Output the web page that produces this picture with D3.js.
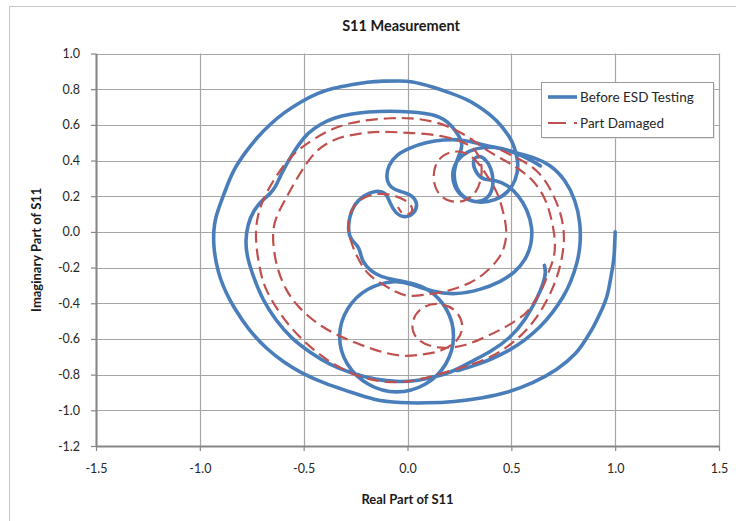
<!DOCTYPE html>
<html>
<head>
<meta charset="utf-8">
<script src="https://cdn.jsdelivr.net/npm/d3@7"></script>
<style>
  html, body { margin: 0; padding: 0; background: #ffffff; }
  svg { display: block; font-family: Lato, "Liberation Sans", "DejaVu Sans", sans-serif; }
</style>
</head>
<body>
<svg id="chart" width="736" height="521"></svg>
<script>
// Axis tick values
const xTicks = [-1.5, -1.0, -0.5, 0.0, 0.5, 1.0, 1.5];
const yTicks = [1.0, 0.8, 0.6, 0.4, 0.2, 0.0, -0.2, -0.4, -0.6, -0.8, -1.0, -1.2];

// S11 trace before ESD testing: [real, imaginary], in sweep order
const beforeESD = [
  [1.000,0.000],[0.997,-0.101],[0.992,-0.174],[0.977,-0.269],[0.963,-0.364],[0.929,-0.454],[0.896,-0.533],
  [0.857,-0.605],[0.818,-0.678],[0.722,-0.774],[0.607,-0.846],[0.481,-0.902],[0.366,-0.930],[0.221,-0.953],
  [0.096,-0.959],[-0.034,-0.959],[-0.164,-0.942],[-0.274,-0.897],[-0.395,-0.852],[-0.515,-0.790],[-0.597,-0.729],
  [-0.674,-0.661],[-0.766,-0.549],[-0.838,-0.420],[-0.871,-0.348],[-0.900,-0.269],[-0.920,-0.185],[-0.934,-0.084],
  [-0.934,0.011],[-0.924,0.084],[-0.900,0.163],[-0.871,0.252],[-0.838,0.348],[-0.780,0.448],[-0.722,0.533],
  [-0.660,0.605],[-0.597,0.667],[-0.515,0.729],[-0.433,0.779],[-0.356,0.807],[-0.274,0.824],[-0.193,0.841],
  [-0.116,0.846],[-0.034,0.846],[0.014,0.846],[0.125,0.812],[0.207,0.778],[0.289,0.742],[0.345,0.702],
  [0.395,0.660],[0.432,0.620],[0.463,0.578],[0.490,0.535],[0.510,0.490],[0.522,0.443],
  [0.536,0.376],[0.522,0.291],[0.486,0.222],[0.424,0.176],[0.342,0.160],[0.268,0.188],[0.222,0.252],
  [0.213,0.336],[0.238,0.406],[0.294,0.456],[0.366,0.478],[0.448,0.473],[0.520,0.443],
  [0.607,0.420],[0.689,0.376],[0.761,0.291],[0.809,0.179],[0.833,0.050],[0.833,-0.073],[0.818,-0.174],
  [0.785,-0.286],[0.751,-0.364],[0.698,-0.454],[0.640,-0.533],[0.568,-0.605],[0.496,-0.661],[0.400,-0.717],
  [0.289,-0.762],[0.207,-0.790],
  [0.303,-0.729],[0.400,-0.673],[0.496,-0.594],[0.568,-0.493],[0.626,-0.370],[0.655,-0.286],[0.668,-0.224],
  [0.655,-0.170],[0.668,-0.224],[0.655,-0.286],[0.626,-0.370],[0.568,-0.493],[0.496,-0.594],[0.400,-0.673],
  [0.303,-0.729],[0.207,-0.790],
  [0.125,-0.813],[0.039,-0.835],[-0.034,-0.841],[-0.154,-0.830],[-0.274,-0.790],[-0.371,-0.746],[-0.467,-0.678],
  [-0.563,-0.594],[-0.636,-0.493],[-0.698,-0.381],[-0.746,-0.241],[-0.775,-0.129],[-0.780,-0.045],[-0.770,0.039],
  [-0.741,0.123],[-0.698,0.179],[-0.662,0.212],[-0.635,0.252],[-0.618,0.300],[-0.597,0.348],[-0.563,0.420],
  [-0.525,0.488],[-0.481,0.555],[-0.419,0.605],[-0.356,0.639],[-0.274,0.661],[-0.193,0.673],[-0.082,0.678],
  [0.014,0.673],[0.125,0.661],[0.193,0.622],[0.241,0.555],[0.270,0.488],
  [0.246,0.426],[0.222,0.348],[0.227,0.263],[0.263,0.196],[0.323,0.162],[0.384,0.180],[0.415,0.247],
  [0.410,0.340],[0.378,0.410],[0.335,0.432],[0.310,0.392],[0.332,0.325],[0.366,0.291],[0.424,0.291],[0.481,0.263],
  [0.534,0.207],[0.578,0.123],[0.602,0.022],[0.597,-0.073],[0.568,-0.157],[0.520,-0.224],[0.448,-0.280],
  [0.351,-0.325],[0.231,-0.353],[0.120,-0.336],[0.014,-0.291],
  [-0.053,-0.269],[-0.197,-0.308],[-0.299,-0.426],[-0.340,-0.583],[-0.302,-0.746],[-0.193,-0.866],[-0.053,-0.912],
  [0.091,-0.866],[0.196,-0.746],[0.234,-0.583],[0.197,-0.426],[0.101,-0.314],[0.014,-0.286],[-0.058,-0.270],
  [-0.130,-0.252],[-0.178,-0.219],[-0.217,-0.168],[-0.228,-0.112],[-0.238,-0.078],[-0.272,-0.045],[-0.286,0.000],
  [-0.281,0.084],[-0.257,0.153],[-0.212,0.205],[-0.154,0.232],[-0.104,0.224],
  [-0.086,0.166],[-0.060,0.106],[-0.014,0.076],[0.035,0.103],[0.050,0.160],[0.022,0.208],[-0.034,0.226],[-0.084,0.247],
  [-0.104,0.303],[-0.093,0.372],[-0.053,0.434],[0.014,0.473],[0.087,0.501],[0.173,0.518],[0.265,0.518],
  [0.342,0.495],[0.400,0.478],[0.462,0.465],[0.520,0.443],[0.592,0.404],[0.640,0.370]
];

// S11 trace after the part was damaged: [real, imaginary], in sweep order
const partDamaged = [
  [0.448,0.460],[0.520,0.420],[0.607,0.364],[0.664,0.291],[0.703,0.207],[0.737,0.112],[0.756,0.000],
  [0.751,-0.101],[0.737,-0.185],[0.713,-0.280],[0.674,-0.381],[0.616,-0.493],[0.544,-0.589],[0.448,-0.673],
  [0.351,-0.729],[0.255,-0.762],[0.125,-0.807],[0.014,-0.841],[-0.096,-0.846],[-0.226,-0.818],[-0.356,-0.746],
  [-0.467,-0.650],[-0.563,-0.538],[-0.626,-0.437],[-0.684,-0.325],[-0.708,-0.230],[-0.727,-0.101],[-0.732,0.000],
  [-0.722,0.095],[-0.693,0.191],[-0.645,0.291],[-0.578,0.404],[-0.515,0.471],[-0.443,0.527],[-0.356,0.583],
  [-0.274,0.611],[-0.193,0.628],[-0.082,0.639],[0.014,0.639],[0.125,0.622],[0.241,0.572],
  [0.327,0.504],[0.400,0.443],[0.472,0.398],[0.530,0.359],[0.607,0.291],[0.664,0.191],[0.693,0.078],
  [0.713,-0.045],[0.708,-0.146],[0.679,-0.224],[0.655,-0.308],[0.616,-0.381],[0.578,-0.454],[0.506,-0.510],
  [0.448,-0.549],[0.366,-0.594],[0.289,-0.633],
  [0.207,-0.652],[0.111,-0.648],[0.031,-0.596],[0.015,-0.505],[0.060,-0.422],[0.144,-0.393],[0.234,-0.430],
  [0.274,-0.521],[0.248,-0.613],[0.159,-0.673],[0.063,-0.689],[-0.034,-0.701],
  [-0.164,-0.661],[-0.289,-0.605],[-0.419,-0.533],[-0.530,-0.420],[-0.587,-0.325],[-0.626,-0.213],[-0.645,-0.101],
  [-0.650,0.000],[-0.636,0.078],[-0.597,0.163],[-0.530,0.308],[-0.453,0.443],[-0.395,0.493],[-0.323,0.533],
  [-0.241,0.549],[-0.164,0.561],[-0.082,0.561],[0.014,0.555],[0.159,0.544],[0.289,0.499],
  [0.340,0.443],[0.360,0.370],[0.355,0.291],[0.330,0.216],[0.279,0.170],[0.207,0.164],[0.146,0.207],
  [0.121,0.291],[0.131,0.376],[0.167,0.430],[0.231,0.458],[0.294,0.440],[0.342,0.387],[0.390,0.303],
  [0.433,0.224],[0.462,0.112],[0.481,0.000],[0.467,-0.090],[0.438,-0.157],[0.366,-0.241],[0.303,-0.286],
  [0.241,-0.314],[0.159,-0.342],[0.077,-0.353],[0.000,-0.364],[-0.058,-0.336],[-0.116,-0.297],[-0.193,-0.241],
  [-0.241,-0.146],[-0.274,-0.056],[-0.289,0.039],[-0.274,0.123],[-0.226,0.191],[-0.144,0.219],[-0.067,0.207],
  [-0.010,0.179],[0.028,0.140],[0.018,0.096],[-0.026,0.096],[-0.046,0.140]
];

const seriesNames = ["Before ESD Testing", "Part Damaged"];
const seriesColors = ["#4a7ebb", "#c0504d"];

const svg = d3.select("#chart");
const plot = { left: 96, right: 719, top: 53.5, bottom: 446 };

const x = d3.scaleLinear().domain([-1.5, 1.5]).range([plot.left, plot.right]);
const y = d3.scaleLinear().domain([-1.2, 1.0]).range([plot.bottom, plot.top]);
const fmt = d => d.toFixed(1);

// chart frame
svg.append("rect")
  .attr("x", 9.5).attr("y", 6.5).attr("width", 760).attr("height", 540)
  .attr("fill", "#ffffff").attr("stroke", "#c8c8c8").attr("stroke-width", 1);

// title
svg.append("text")
  .attr("x", 401).attr("y", 31)
  .attr("text-anchor", "middle")
  .attr("font-size", 14.5).attr("font-weight", "bold").attr("fill", "#1a1a1a")
  .text("S11 Measurement");

// gridlines
const grid = svg.append("g").attr("class", "grid");
grid.selectAll("line.v").data(xTicks).join("line")
  .attr("class", "v")
  .attr("x1", d => Math.round(x(d)) + 0.5).attr("x2", d => Math.round(x(d)) + 0.5)
  .attr("y1", plot.top).attr("y2", plot.bottom)
  .attr("stroke", "#a6a6a6").attr("stroke-width", 1.2);
grid.selectAll("line.h").data(yTicks).join("line")
  .attr("class", "h")
  .attr("x1", plot.left).attr("x2", plot.right)
  .attr("y1", d => Math.round(y(d)) + 0.5).attr("y2", d => Math.round(y(d)) + 0.5)
  .attr("stroke", "#a6a6a6").attr("stroke-width", 1.2);

// axes
const xAxis = svg.append("g")
  .attr("transform", `translate(0,${plot.bottom})`)
  .call(d3.axisBottom(x).tickValues(xTicks).tickFormat(fmt).tickSize(5).tickSizeOuter(0).tickPadding(13));
const yAxis = svg.append("g")
  .attr("transform", `translate(${plot.left},0)`)
  .call(d3.axisLeft(y).tickValues(yTicks).tickFormat(fmt).tickSize(5).tickSizeOuter(0).tickPadding(11));

[xAxis, yAxis].forEach(g => {
  g.select(".domain").attr("stroke", "#868686").attr("stroke-width", 2);
  g.selectAll(".tick line").attr("stroke", "#868686").attr("stroke-width", 1.2);
  g.selectAll(".tick text")
    .attr("font-size", 12.5).attr("fill", "#262626")
    .attr("font-family", "Lato, 'Liberation Sans', sans-serif");
});

// axis titles
svg.append("text")
  .attr("x", (plot.left + plot.right) / 2).attr("y", 504)
  .attr("text-anchor", "middle")
  .attr("font-size", 13).attr("font-weight", "bold").attr("fill", "#1a1a1a")
  .text("Real Part of S11");
svg.append("text")
  .attr("transform", `translate(41,${(plot.top + plot.bottom) / 2}) rotate(-90)`)
  .attr("text-anchor", "middle")
  .attr("font-size", 13).attr("font-weight", "bold").attr("fill", "#1a1a1a")
  .text("Imaginary Part of S11");

// traces (smoothed, as a spreadsheet "smoothed line" scatter)
const line = d3.line()
  .x(d => x(d[0]))
  .y(d => y(d[1]))
  .curve(d3.curveBasis);

svg.append("path")
  .datum(beforeESD)
  .attr("d", line)
  .attr("fill", "none")
  .attr("stroke", seriesColors[0])
  .attr("stroke-width", 3.6)
  .attr("stroke-linejoin", "round")
  .attr("stroke-linecap", "round");

svg.append("path")
  .datum(partDamaged)
  .attr("d", line)
  .attr("fill", "none")
  .attr("stroke", seriesColors[1])
  .attr("stroke-width", 2.2)
  .attr("stroke-dasharray", "12,6")
  .attr("stroke-linejoin", "round");

// legend
const legend = svg.append("g").attr("transform", "translate(541,82)");
legend.append("rect")
  .attr("x", 2).attr("y", 2).attr("width", 172).attr("height", 55)
  .attr("fill", "#d9d9d9").attr("opacity", 0.6);
legend.append("rect")
  .attr("x", 0.5).attr("y", 0.5).attr("width", 172).attr("height", 55)
  .attr("fill", "#ffffff").attr("stroke", "#9a9a9a").attr("stroke-width", 1);

const entries = legend.selectAll("g.entry").data(seriesNames).join("g")
  .attr("class", "entry")
  .attr("transform", (d, i) => `translate(0,${15 + i * 26})`);
entries.append("line")
  .attr("x1", 7).attr("x2", 36).attr("y1", 0).attr("y2", 0)
  .attr("stroke", (d, i) => seriesColors[i])
  .attr("stroke-width", (d, i) => i === 0 ? 3.6 : 2.2)
  .attr("stroke-dasharray", (d, i) => i === 0 ? null : "18,8");
entries.append("text")
  .attr("x", 39).attr("y", 5)
  .attr("font-size", 13.5).attr("fill", "#262626")
  .text(d => d);
</script>
</body>
</html>
